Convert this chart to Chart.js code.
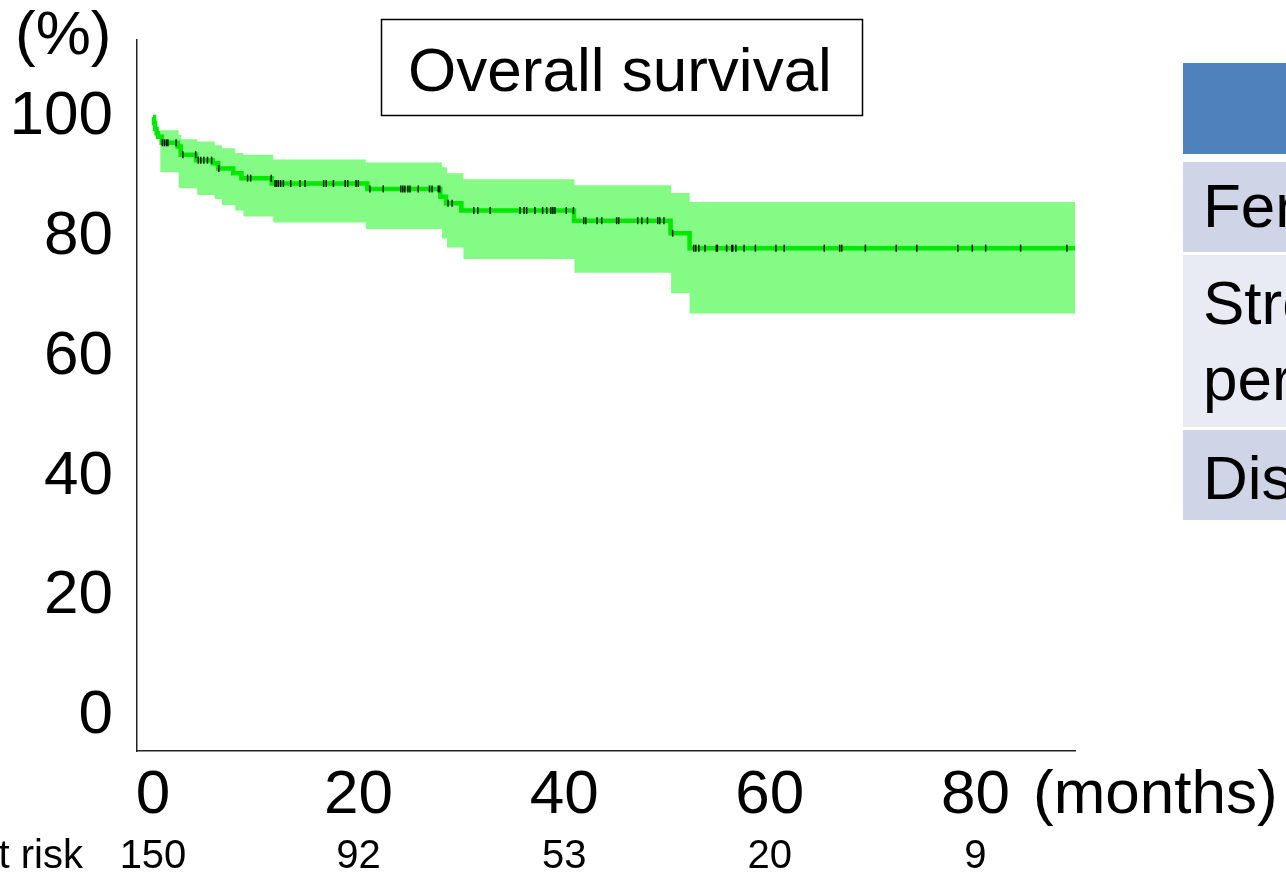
<!DOCTYPE html>
<html>
<head>
<meta charset="utf-8">
<script src="https://cdn.jsdelivr.net/npm/chart.js@4.4.1/dist/chart.umd.min.js"></script>
<style>
  html, body { margin: 0; padding: 0; background: #fff; overflow: hidden; }
  #wrap { position: relative; width: 1286px; height: 876px; overflow: hidden; }
  #km { position: absolute; left: 0; top: 0; }
  .cell { position: absolute; left: 1183px; width: 260px; font: 62px "Liberation Sans", Arial, sans-serif; color: #000; box-sizing: border-box; padding-left: 20px; white-space: nowrap; }
</style>
</head>
<body>
<div id="wrap">
  <canvas id="km" width="1286" height="876"></canvas>
  <div class="cell" style="top:63px;height:91px;background:#4f81bd;"></div>
  <div class="cell" style="top:162px;height:90px;background:#cfd5e6;line-height:88px;">Ferritin</div>
  <div class="cell" style="top:255px;height:172px;background:#e8ebf4;line-height:76px;padding-top:10px;">Stromal<br>percentage</div>
  <div class="cell" style="top:430px;height:90px;background:#cfd5e6;line-height:96px;">Distant</div>
</div>
<script>
/* Overall survival - Kaplan-Meier with 95% CI */
const yTicks = [0, 20, 40, 60, 80, 100];
const xTicks = [0, 20, 40, 60, 80];
const riskTimes = [0, 20, 40, 60, 80];
const atRisk = [150, 92, 53, 20, 9];

// survival steps: value after the drop at each time
const kmTimes = [0, 0.1, 0.2, 0.35, 0.5, 0.85, 2.4, 2.7, 4.2, 5.8, 6.35, 7.8, 8.6, 11.55, 20.85, 27.95, 28.5, 30.0, 40.95, 50.35, 52.2, 89.7];
const kmSurv  = [100, 99.0, 98.0, 97.3, 96.7, 95.7, 95.1, 93.7, 92.8, 92.3, 91.4, 90.6, 89.8, 88.9, 88.0, 86.7, 85.6, 84.4, 82.7, 80.6, 78.1, 78.1];

// confidence band steps
const ciTimes = [0.7, 2.5, 2.75, 4.3, 6.0, 6.7, 8.0, 8.8, 11.7, 20.7, 28.1, 28.6, 30.2, 41.0, 50.4, 52.2, 89.7];
const ciUpper = [97.8, 97.0, 96.3, 95.9, 95.3, 94.8, 94.0, 93.7, 92.9, 92.4, 91.6, 90.6, 89.6, 88.6, 87.3, 85.8, 85.8];
const ciLower = [90.8, 88.1, 88.1, 87.0, 86.3, 85.3, 84.4, 83.4, 82.4, 81.3, 79.7, 78.2, 76.3, 74.0, 70.6, 67.2, 67.2];

// censored observations (months)
const censorTimes = [0.9, 1.1, 1.3, 1.45, 2.25, 2.9, 4.15, 4.4, 4.65, 4.95, 5.3, 5.7, 6.4, 9.2, 9.5, 11.5,
  11.87, 12.03, 12.2, 12.42, 12.68, 13.4, 14.3, 14.8, 16.6, 16.85, 17.55, 18.7, 18.95, 19.75, 19.97,
  21.1, 22.4, 24.1, 24.3, 24.5, 24.8, 25.0, 25.8, 26.9, 27.15, 27.75, 27.9, 28.7, 29.1,
  31.2, 31.6, 32.8, 35.7, 36.1, 36.35, 37.15, 37.9, 38.3, 38.7, 38.9, 39.1, 40.2, 40.9,
  41.9, 42.1, 43.2, 43.65, 45.1, 45.3, 47.15, 47.55, 48.1, 49.1, 49.3, 49.7, 50.55,
  52.6, 52.8, 53.1, 53.7, 54.8, 54.9, 55.8, 56.3, 56.4, 56.7, 57.5, 58.6, 60.6, 61.4,
  65.3, 66.8, 67.0, 69.3, 72.3, 74.3, 78.3, 79.7, 81.0, 84.4, 88.9];

const FONT = '"Liberation Sans", Arial, sans-serif';

function survAt(t) {
  let s = kmSurv[0];
  for (let i = 0; i < kmTimes.length; i++) { if (kmTimes[i] <= t) s = kmSurv[i]; }
  return s;
}
const pts = (xs, ys) => xs.map((x, i) => ({ x: x, y: ys[i] }));

const overlay = {
  id: 'overlay',
  afterDraw(chart) {
    const ctx = chart.ctx, xs = chart.scales.x;
    ctx.save();
    ctx.fillStyle = '#000';
    ctx.textBaseline = 'alphabetic';
    ctx.font = '40px ' + FONT;
    ctx.textAlign = 'center';
    atRisk.forEach((n, i) => ctx.fillText(String(n), xs.getPixelForValue(riskTimes[i]), 868));
    ctx.textAlign = 'right';
    ctx.fillText('No. at risk', 83, 868);
    ctx.font = '62px ' + FONT;
    ctx.textAlign = 'left';
    ctx.fillText('(months)', 1033, 813);
    ctx.fillText('(%)', 15, 54);
    ctx.lineWidth = 1.5;
    ctx.strokeStyle = '#000';
    ctx.strokeRect(381.5, 19.5, 481, 96);
    ctx.textAlign = 'center';
    ctx.fillText('Overall survival', 620, 91);
    ctx.restore();
  }
};

new Chart(document.getElementById('km'), {
  type: 'line',
  data: {
    datasets: [
      { label: 'censored', type: 'scatter', order: 0,
        data: censorTimes.map(t => ({ x: t, y: survAt(t) })),
        pointStyle: 'line', rotation: 90, radius: 3.5, borderColor: '#111', borderWidth: 1.5, backgroundColor: '#111' },
      { label: 'Overall survival', order: 1, data: pts(kmTimes, kmSurv), stepped: 'before',
        borderColor: '#00e800', borderWidth: 4.5, pointRadius: 0, fill: false },
      { label: 'upper', order: 2, data: pts(ciTimes, ciUpper), stepped: 'before',
        borderWidth: 0, pointRadius: 0, backgroundColor: '#84fb84', fill: '+1' },
      { label: 'lower', order: 3, data: pts(ciTimes, ciLower), stepped: 'before',
        borderWidth: 0, pointRadius: 0, fill: false }
    ]
  },
  options: {
    responsive: false,
    animation: false,
    layout: { padding: { left: 0, top: 40, right: 211, bottom: 0 } },
    plugins: { legend: { display: false }, tooltip: { enabled: false }, title: { display: false } },
    scales: {
      x: {
        type: 'linear', min: -1.556, max: 89.69,
        afterBuildTicks: s => { s.ticks = xTicks.map(v => ({ value: v })); },
        afterFit: s => { s.height = 125; s.paddingLeft = 0; s.paddingRight = 0; },
        grid: { display: false, drawTicks: false },
        border: { display: true, color: '#222', width: 1.5 },
        ticks: { color: '#000', font: { family: FONT, size: 62 }, padding: 8, maxRotation: 0 }
      },
      y: {
        type: 'linear', min: -5.84, max: 112.86,
        afterBuildTicks: s => { s.ticks = yTicks.map(v => ({ value: v })); },
        afterFit: s => { s.width = 137; s.paddingTop = 0; s.paddingBottom = 0; },
        grid: { display: false, drawTicks: false },
        border: { display: true, color: '#222', width: 1.5 },
        ticks: { color: '#000', font: { family: FONT, size: 62 }, padding: 24 }
      }
    }
  },
  plugins: [overlay]
});
</script>
</body>
</html>
